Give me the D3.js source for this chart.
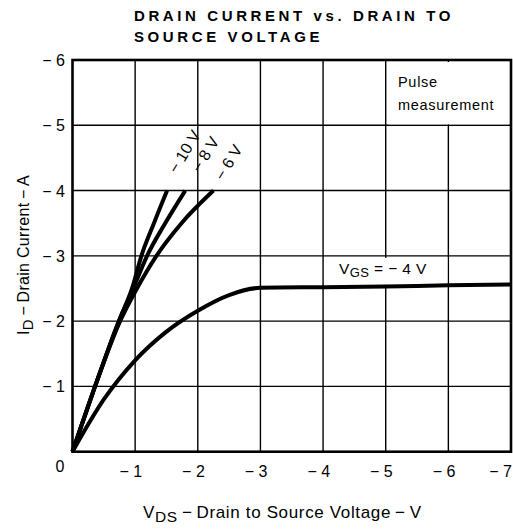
<!DOCTYPE html>
<html>
<head>
<meta charset="utf-8">
<script src="https://cdn.jsdelivr.net/npm/d3@7"></script>
<style>
  body { margin: 0; background: #fff; }
  svg { font-family: "Liberation Sans", Arial, Helvetica, sans-serif; }
</style>
</head>
<body>
<div id="chart"></div>
<script>
// tick values (V and A)
var vdsTicks = [0, -1, -2, -3, -4, -5, -6, -7]
var idTicks = [0, -1, -2, -3, -4, -5, -6]

// curves, one per gate voltage
var vds10 = [0, -0.36, -0.74, -0.95, -1.1, -1.3, -1.51]
var id10 = [0, -1, -2, -2.5, -3, -3.5, -4]

var vds8 = [0, -0.36, -0.74, -0.97, -1.19, -1.48, -1.8]
var id8 = [0, -1, -2, -2.5, -3, -3.5, -4]

var vds6 = [0, -0.36, -0.76, -1.0, -1.34, -1.74, -2.25]
var id6 = [0, -1, -2, -2.45, -3, -3.5, -4]

var vds4 = [0, -0.5, -1, -1.5, -2, -2.5, -3, -4, -5, -6, -7]
var id4 = [0, -0.8, -1.4, -1.84, -2.16, -2.4, -2.51, -2.52, -2.53, -2.55, -2.56]

var curveLabels = ['\u2212 10 V', '\u2212 8 V', '\u2212 6 V']

var width = 513
var height = 530
var plotLeft = 72.5, plotRight = 511, plotTop = 60, plotBottom = 451.7

var svg = d3.select('#chart')
  .append('svg')
  .attr('width', width)
  .attr('height', height)

var x = d3.scaleLinear().domain([0, -7]).range([plotLeft, plotRight])
var y = d3.scaleLinear().domain([0, -6]).range([plotBottom, plotTop])

// grid
svg.append('g')
  .selectAll('line')
  .data(vdsTicks.slice(1, -1))
  .enter()
  .append('line')
  .attr('x1', d => x(d)).attr('x2', d => x(d))
  .attr('y1', plotTop).attr('y2', plotBottom)
  .attr('stroke', '#000').attr('stroke-width', 1.4)

svg.append('g')
  .selectAll('line')
  .data(idTicks.slice(1, -1))
  .enter()
  .append('line')
  .attr('x1', plotLeft).attr('x2', plotRight)
  .attr('y1', d => y(d)).attr('y2', d => y(d))
  .attr('stroke', '#000').attr('stroke-width', 1.4)

// white boxes behind the two notes
svg.append('rect')
  .attr('x', x(-5) + 3).attr('y', y(-6) + 2)
  .attr('width', x(-7) - x(-5) - 5).attr('height', y(-5) - y(-6) - 3)
  .attr('fill', '#fff')
svg.append('rect')
  .attr('x', x(-4) + 2).attr('y', y(-3) + 2)
  .attr('width', x(-6) - x(-4) - 3).attr('height', 27)
  .attr('fill', '#fff')

// frame
svg.append('rect')
  .attr('x', plotLeft).attr('y', plotTop)
  .attr('width', plotRight - plotLeft).attr('height', plotBottom - plotTop)
  .attr('fill', 'none').attr('stroke', '#000').attr('stroke-width', 2.6)

// curves
var line = d3.line()
  .x(d => x(d[0]))
  .y(d => y(d[1]))
  .curve(d3.curveMonotoneX)

var series = [
  d3.zip(vds10, id10),
  d3.zip(vds8, id8),
  d3.zip(vds6, id6),
  d3.zip(vds4, id4)
]
svg.append('g')
  .selectAll('path')
  .data(series)
  .enter()
  .append('path')
  .attr('d', d => line(d))
  .attr('fill', 'none')
  .attr('stroke', '#000')
  .attr('stroke-width', 4)

// rotated labels just above the top ends of the steep curves
var labelShift = [[10, -16], [15, -17], [10, -9]]
svg.append('g')
  .selectAll('text')
  .data(curveLabels)
  .enter()
  .append('text')
  .attr('transform', function (d, i) {
    var end = series[i][series[i].length - 1]
    var px = x(end[0]) + labelShift[i][0]
    var py = y(end[1]) + labelShift[i][1]
    return 'translate(' + px + ',' + py + ') rotate(-59)'
  })
  .attr('font-size', 16)
  .text(d => d)

// tick labels
svg.append('g')
  .selectAll('text')
  .data(idTicks.slice(1))
  .enter()
  .append('text')
  .attr('x', 65).attr('y', d => y(d) + 6)
  .attr('text-anchor', 'end')
  .attr('font-size', 16)
  .text(d => '\u2212 ' + Math.abs(d))

svg.append('g')
  .selectAll('text')
  .data(vdsTicks.slice(1))
  .enter()
  .append('text')
  .attr('x', d => Math.min(x(d) + 7, 512)).attr('y', 477)
  .attr('text-anchor', 'end')
  .attr('font-size', 16)
  .text(d => '\u2212 ' + Math.abs(d))

svg.append('text')
  .attr('x', 60).attr('y', 472)
  .attr('text-anchor', 'middle')
  .attr('font-size', 16)
  .text('0')

// notes
var note = svg.append('text').attr('font-size', 14.5).attr('letter-spacing', 0.7)
note.append('tspan').attr('x', 398).attr('y', 87).text('Pulse')
note.append('tspan').attr('x', 398).attr('y', 110).text('measurement')

var vgs = svg.append('text').attr('x', 339).attr('y', 274)
  .attr('font-size', 15.5).attr('letter-spacing', 0.4)
vgs.append('tspan').text('V')
vgs.append('tspan').attr('font-size', 13).attr('dy', 3).text('GS')
vgs.append('tspan').attr('dy', -3).text(' = \u2212 4 V')

// axis titles
var xt = svg.append('text').attr('x', 143).attr('y', 518)
  .attr('font-size', 17).attr('letter-spacing', 0.65)
xt.append('tspan').text('V')
xt.append('tspan').attr('font-size', 15.5).attr('dy', 4).text('DS')
xt.append('tspan').attr('dy', -4).text('\u2009\u2212\u2009Drain to Source Voltage\u2009\u2212\u2009V')

var yt = svg.append('text')
  .attr('transform', 'translate(29,335) rotate(-90)')
  .attr('font-size', 16).attr('letter-spacing', 0.3)
yt.append('tspan').text('I')
yt.append('tspan').attr('font-size', 15).attr('dy', 4).text('D')
yt.append('tspan').attr('dy', -4).text('\u2009\u2212\u2009Drain Current\u2009\u2212\u2009A')

// title
var title = svg.append('text')
  .attr('font-size', 15)
  .attr('font-weight', 'bold')
  .attr('letter-spacing', 3.6)
title.append('tspan').attr('x', 134).attr('y', 21).text('DRAIN CURRENT vs. DRAIN TO')
title.append('tspan').attr('x', 134).attr('y', 42).text('SOURCE VOLTAGE')
</script>
</body>
</html>
